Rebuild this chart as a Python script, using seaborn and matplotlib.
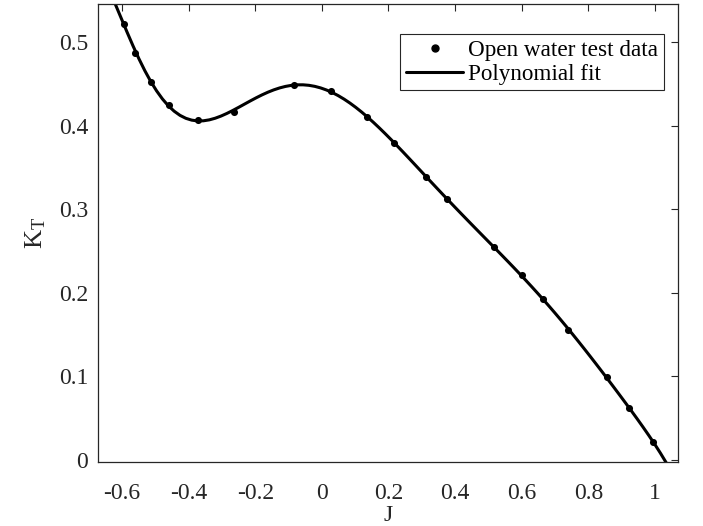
import matplotlib
matplotlib.use("Agg")
import matplotlib.pyplot as plt
import seaborn as sns
import numpy as np
import pandas as pd
from matplotlib.lines import Line2D

J = [-0.593, -0.560, -0.513, -0.459, -0.372, -0.263, -0.083, 0.028, 0.134,
     0.216, 0.313, 0.376, 0.516, 0.600, 0.664, 0.739, 0.855, 0.922, 0.994]
KT = [0.521, 0.4865, 0.4525, 0.424, 0.4067, 0.4167, 0.449, 0.4414, 0.4107,
      0.379, 0.339, 0.312, 0.255, 0.221, 0.192, 0.156, 0.0989, 0.0626, 0.0219]
xticks = [-0.6, -0.4, -0.2, 0, 0.2, 0.4, 0.6, 0.8, 1]
yticks = [0, 0.1, 0.2, 0.3, 0.4, 0.5]
xticklabels = ["-0.6", "-0.4", "-0.2", "0", "0.2", "0.4", "0.6", "0.8", "1"]
yticklabels = ["0", "0.1", "0.2", "0.3", "0.4", "0.5"]

df = pd.DataFrame({"J": J, "KT": KT})

sns.set_style("white")
plt.rcParams["font.family"] = ["Liberation Serif", "DejaVu Serif"]
plt.rcParams["mathtext.fontset"] = "custom"
plt.rcParams["mathtext.rm"] = "Liberation Serif"

gray = "#262626"
fig = plt.figure(figsize=(7.03, 5.26), dpi=100)
ax = fig.add_axes([98/703, 1 - 461.7/526, (678 - 98)/703, (461.7 - 4.3)/526])
ax.set_xlim(-0.672, 1.069)
ax.set_ylim(-0.002, 0.545)

sns.regplot(data=df, x="J", y="KT", order=8, ci=None, truncate=False, ax=ax,
            scatter=False, line_kws=dict(color="black", lw=2.2, zorder=2))
sns.scatterplot(data=df, x="J", y="KT", ax=ax, color="black", s=26,
                edgecolor="black", linewidth=0, zorder=3)

ax.set_xticks(xticks)
ax.set_xticklabels(xticklabels)
ax.set_yticks(yticks)
ax.set_yticklabels(yticklabels)
ax.tick_params(direction="in", length=5, width=0.8, top=True, right=True,
               labelsize=17, colors=gray)
ax.tick_params(axis="x", pad=15)
ax.tick_params(axis="y", pad=7)
for sp in ax.spines.values():
    sp.set_color(gray)
    sp.set_linewidth(0.9)
    sp.set_visible(True)

ax.set_xlabel("J", fontsize=17, color=gray, labelpad=1)
ax.set_ylabel(r"$\mathregular{K_T}$", fontsize=19, color=gray, labelpad=8)

handles = [Line2D([], [], ls="none", marker="o", color="black", markersize=5),
           Line2D([], [], color="black", lw=2.2)]
leg = ax.legend(handles, ["Open water test data", "Polynomial fit"],
                loc="upper right", bbox_to_anchor=(0.975, 0.935), fontsize=16.7,
                frameon=True, fancybox=False, edgecolor=gray, framealpha=1,
                borderpad=0.25, labelspacing=0.1, handlelength=2.45,
                handletextpad=0.2, borderaxespad=0)
leg.get_frame().set_linewidth(0.8)
for t in leg.get_texts():
    t.set_color("black")

fig.savefig("out.png", dpi=100)
